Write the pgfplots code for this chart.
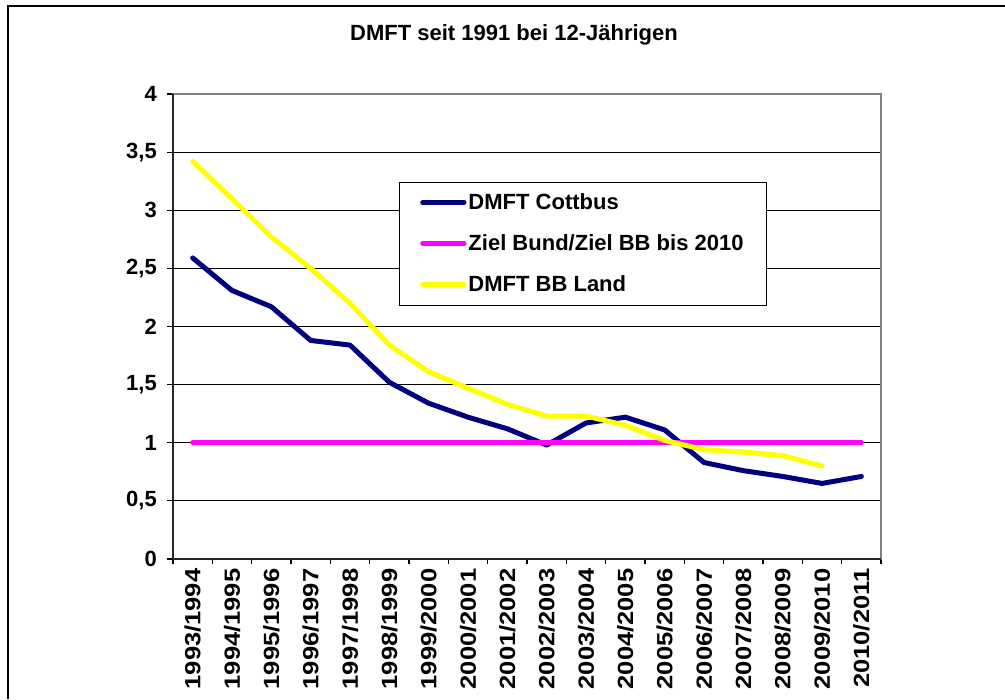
\documentclass[border=0pt]{standalone}
\usepackage{pgfplots}
\pgfplotsset{compat=1.18}
\usepackage{graphicx}
\usepackage{fontspec}
\setmainfont{Liberation Sans}
\definecolor{cnavy}{RGB}{0,0,128}
\definecolor{cmag}{RGB}{255,0,255}
\definecolor{cyel}{RGB}{255,255,0}
\newcommand{\cf}{\bfseries\fontsize{16.5}{19}\selectfont}
\newcommand{\xl}[1]{\scalebox{1.16}[1]{#1}}
\begin{document}
\begin{tikzpicture}
\useasboundingbox (0,0) rectangle (753.75pt,524.25pt);
\draw[black, line width=1.5pt] (6pt,0pt) -- (6pt,519.75pt) -- (753.75pt,519.75pt);
\begin{axis}[
  at={(129.75pt,105pt)}, anchor=south west,
  scale only axis, width=531pt, height=348.75pt,
  xmin=-0.5, xmax=17.5, ymin=0, ymax=4,
  xtick={0,...,17},
  xticklabels={\xl{1993/1994},\xl{1994/1995},\xl{1995/1996},\xl{1996/1997},\xl{1997/1998},\xl{1998/1999},\xl{1999/2000},\xl{2000/2001},\xl{2001/2002},\xl{2002/2003},\xl{2003/2004},\xl{2004/2005},\xl{2005/2006},\xl{2006/2007},\xl{2007/2008},\xl{2008/2009},\xl{2009/2010},\xl{2010/2011}},
  minor xtick={-0.5,0.5,...,17.5},
  major x tick style={draw=none},
  minor tick length=4pt,
  major tick length=4.5pt,
  tick align=outside,
  xtick pos=bottom, ytick pos=left,
  ytick={0,0.5,...,4},
  yticklabels={0,{0,5},1,{1,5},2,{2,5},3,{3,5},4},
  tick style={black, line width=0.9pt},
  ymajorgrids, grid style={black, line width=0.75pt},
  axis line style={draw=gray, line width=1.5pt},
  ticklabel style={font=\cf},
  x tick label style={rotate=90, anchor=east, inner sep=0pt, xshift=-2.5pt},
  y tick label style={anchor=east, inner sep=0pt, xshift=-7.5pt},
  title={DMFT seit 1991 bei 12-Jährigen},
  title style={font=\cf, at={(axis description cs:0.4816,1.0968)}, anchor=base, inner sep=0pt},
  legend style={draw=black, line width=0.75pt, fill=white,
    at={(axis description cs:0.3192,0.8114)}, anchor=north west,
    font=\cf, inner xsep=15.5pt, inner ysep=7pt, row sep=14.4pt,
    nodes={inner sep=1.5pt}},
  legend cell align=left,
  legend image code/.code={\draw[#1,line cap=round] (2pt,0pt) -- (33pt,0pt);},
  every axis plot/.append style={line width=3.75pt, line cap=round, line join=round},
  clip=false,
]
\addplot[cnavy] coordinates {(0,2.59) (1,2.31) (2,2.17) (3,1.88) (4,1.84) (5,1.52) (6,1.34) (7,1.22) (8,1.12) (9,0.98) (10,1.17) (11,1.22) (12,1.11) (13,0.83) (14,0.76) (15,0.71) (16,0.65) (17,0.71)};
\addlegendentry{DMFT Cottbus}
\addplot[cmag] coordinates {(0,1) (1,1) (2,1) (3,1) (4,1) (5,1) (6,1) (7,1) (8,1) (9,1) (10,1) (11,1) (12,1) (13,1) (14,1) (15,1) (16,1) (17,1)};
\addlegendentry{Ziel Bund/Ziel BB bis 2010}
\addplot[cyel] coordinates {(0,3.42) (1,3.10) (2,2.77) (3,2.50) (4,2.20) (5,1.84) (6,1.61) (7,1.47) (8,1.33) (9,1.23) (10,1.23) (11,1.15) (12,1.02) (13,0.94) (14,0.92) (15,0.89) (16,0.80)};
\addlegendentry{DMFT BB Land}
\draw[black!85, line width=1.2pt] (rel axis cs:0,1) -- (rel axis cs:0,0) -- (rel axis cs:1,0);
\end{axis}
\end{tikzpicture}
\end{document}
